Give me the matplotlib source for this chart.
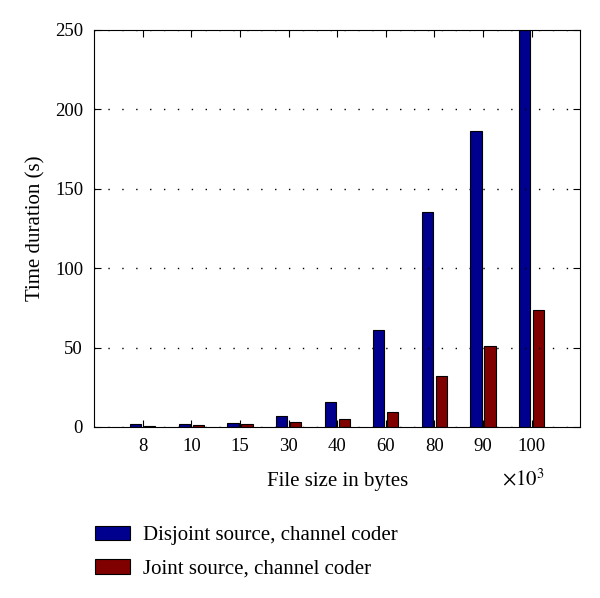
import matplotlib.pyplot as plt
import numpy as np

# File sizes (x10^3 bytes) and measured times
file_sizes = ['8', '10', '15', '30', '40', '60', '80', '90', '100']
disjoint = [1.6, 1.9, 2.7, 6.9, 16.0, 61.3, 135.2, 186.6, 250.0]
joint = [0.8, 1.0, 1.9, 3.1, 5.0, 9.7, 32.3, 51.2, 73.7]

plt.rcParams['font.family'] = ['Liberation Serif', 'DejaVu Serif']
plt.rcParams['mathtext.fontset'] = 'stix'

fig = plt.figure(figsize=(6, 5.98), dpi=100)
ax = fig.add_axes([0.157, 0.286, 0.81, 0.664])

x = np.arange(1, len(file_sizes) + 1)
w = 0.23
b1 = ax.bar(x - 0.145, disjoint, w, color='#00008f', edgecolor='black', linewidth=0.8,
            label='Disjoint source, channel coder')
b2 = ax.bar(x + 0.145, joint, w, color='#800000', edgecolor='black', linewidth=0.8,
            label='Joint source, channel coder')

ax.set_xlim(0, 10)
ax.set_ylim(0, 250)
ax.set_xticks(x)
ax.set_xticklabels(file_sizes)
ax.set_yticks([0, 50, 100, 150, 200, 250])
ax.tick_params(direction='in', top=True, right=True, labelsize=13.5, length=5, pad=8)
ax.yaxis.grid(True, linestyle=(0, (1, 9)), color='black', linewidth=1.0)
ax.set_axisbelow(False)

ax.set_xlabel('File size in bytes', fontsize=15, labelpad=12)
ax.set_ylabel('Time duration (s)', fontsize=15, labelpad=7)
ax.text(0.883, -0.133, r'$\times10^3$', transform=ax.transAxes, fontsize=15,
        ha='center', va='center')

fig.legend(handles=[b1, b2], loc='upper left', bbox_to_anchor=(0.127, 0.152),
           frameon=False, fontsize=15, handlelength=1.7, handleheight=0.7,
           handletextpad=0.6, labelspacing=0.65)

plt.savefig('out.png', dpi=100)
